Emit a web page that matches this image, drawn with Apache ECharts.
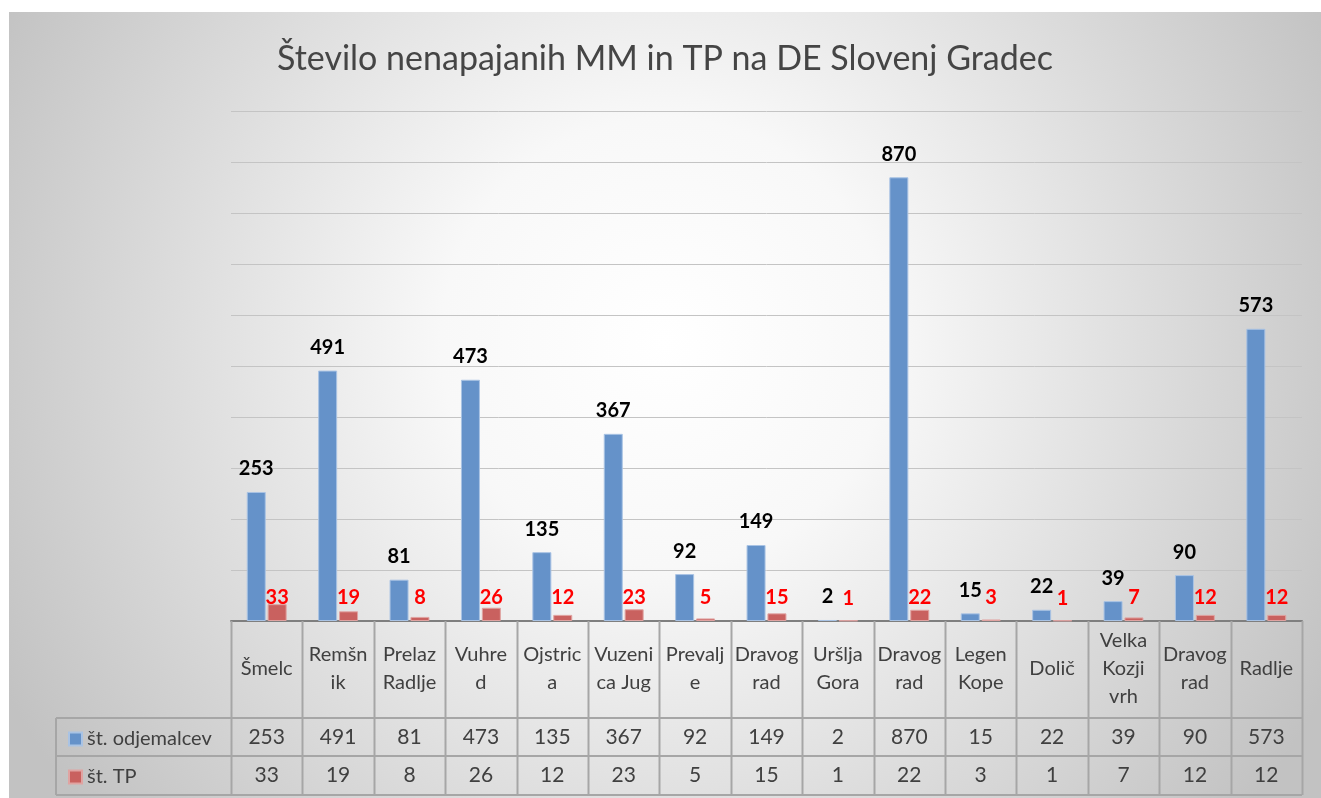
<!DOCTYPE html>
<html lang="sl">
<head>
    <meta charset="UTF-8">
    <title>Število nenapajanih MM in TP</title>
    <script src="https://cdn.jsdelivr.net/npm/echarts@6/dist/echarts.min.js"></script>
    <style>
        html, body { margin: 0; padding: 0; background: #ffffff; }
    </style>
</head>
<body>
    <div id="chart" style="width:1312px;height:786px;position:absolute;left:9px;top:12px;"></div>
    <script type="text/javascript">
        // podatki
        var kraji = ['Šmelc', 'Remšn\nik', 'Prelaz\nRadlje', 'Vuhre\nd', 'Ojstric\na', 'Vuzeni\nca Jug',
            'Prevalj\ne', 'Dravog\nrad', 'Uršlja\nGora', 'Dravog\nrad', 'Legen\nKope', 'Dolič',
            'Velka\nKozji\nvrh', 'Dravog\nrad', 'Radlje'];
        var odjemalci = [253, 491, 81, 473, 135, 367, 92, 149, 2, 870, 15, 22, 39, 90, 573];
        var tp = [33, 19, 8, 26, 12, 23, 5, 15, 1, 22, 3, 1, 7, 12, 12];
        var imenaSerij = ['št. odjemalcev', 'št. TP'];

        // postavitev (v koordinatah vsebnika)
        var W = 1312, H = 786;
        var gLeft = 222, gRight = 19, gTop = 99, gBottom = 177;
        var axisY = H - gBottom;            // 609
        var rowLines = [706, 744, 783];     // vodoravne crte tabele
        var leftCol = 47;
        var lineCol = '#a6a6a6';
        var txtCol = '#404040';
        var font = 'Lato, "Open Sans", sans-serif';

        var chart = echarts.init(document.getElementById('chart'));

        // crte tabele pod grafom
        var graphics = [];
        var cw = (W - gLeft - gRight) / kraji.length;
        for (var i = 0; i <= kraji.length; i++) {
            var x = Math.round(gLeft + i * cw) + 0.5;
            graphics.push({
                type: 'line', z: 1,
                shape: { x1: x, y1: axisY, x2: x, y2: rowLines[2] },
                style: { stroke: lineCol, lineWidth: 2 }
            });
        }
        graphics.push({
            type: 'line', z: 1,
            shape: { x1: leftCol, y1: rowLines[0], x2: leftCol, y2: rowLines[2] },
            style: { stroke: lineCol, lineWidth: 2 }
        });
        for (var j = 0; j < rowLines.length; j++) {
            graphics.push({
                type: 'line', z: 1,
                shape: { x1: leftCol, y1: rowLines[j], x2: W - gRight, y2: rowLines[j] },
                style: { stroke: lineCol, lineWidth: 2 }
            });
        }

        var option = {
            backgroundColor: {
                type: 'radial', x: 0.5, y: 0.42, r: 0.95,
                colorStops: [
                    { offset: 0, color: '#ffffff' },
                    { offset: 0.3, color: '#f8f8f8' },
                    { offset: 1, color: '#c2c2c2' }
                ]
            },
            title: {
                text: 'Število nenapajanih MM in TP na DE Slovenj Gradec',
                left: 'center',
                top: 25,
                padding: [5, 5, 5, 19],
                textStyle: { fontFamily: font, fontSize: 34, fontWeight: 'normal', color: '#454545' }
            },
            legend: {
                orient: 'vertical',
                left: 54,
                top: 712,
                icon: 'rect',
                itemWidth: 13,
                itemHeight: 13,
                itemGap: 18,
                data: imenaSerij,
                textStyle: { fontFamily: font, fontSize: 20, lineHeight: 20, color: txtCol, padding: [0, 0, 0, 0] }
            },
            grid: { left: gLeft, right: gRight, top: gTop, bottom: gBottom },
            xAxis: [{
                type: 'category',
                data: kraji,
                axisLine: { lineStyle: { color: '#7f7f7f', width: 2 } },
                axisTick: { show: false },
                axisLabel: {
                    interval: 0, margin: 48, verticalAlign: 'middle',
                    fontFamily: font, fontSize: 20, lineHeight: 28, color: txtCol
                }
            }, {
                type: 'category',
                position: 'bottom',
                data: odjemalci.map(String),
                axisLine: { show: false },
                axisTick: { show: false },
                axisLabel: { interval: 0, margin: 116, verticalAlign: 'middle', fontFamily: font, fontSize: 21, color: txtCol }
            }, {
                type: 'category',
                position: 'bottom',
                data: tp.map(String),
                axisLine: { show: false },
                axisTick: { show: false },
                axisLabel: { interval: 0, margin: 154, verticalAlign: 'middle', fontFamily: font, fontSize: 21, color: txtCol }
            }],
            yAxis: {
                type: 'value',
                min: 0, max: 1000, interval: 100,
                axisLabel: { show: false },
                axisLine: { show: false },
                axisTick: { show: false },
                splitLine: { lineStyle: { color: '#c4c4c4', width: 1 } }
            },
            graphic: graphics,
            series: [{
                name: imenaSerij[0],
                type: 'bar',
                data: odjemalci,
                barWidth: 19,
                barGap: '10%',
                itemStyle: { color: '#6592c9', borderColor: '#a9c3e4', borderWidth: 1 },
                label: {
                    show: true, position: 'top', distance: 13,
                    fontFamily: font, fontSize: 20, fontWeight: 'bold', color: '#000000'
                }
            }, {
                name: imenaSerij[1],
                type: 'bar',
                data: tp,
                barWidth: 19,
                itemStyle: { color: '#c9615f', borderColor: '#e0a3a1', borderWidth: 1 },
                label: {
                    show: true, position: 'insideBottom', distance: 13,
                    fontFamily: font, fontSize: 20, fontWeight: 'bold', color: '#ff0000'
                }
            }]
        };
        chart.setOption(option);
    </script>
</body>
</html>
